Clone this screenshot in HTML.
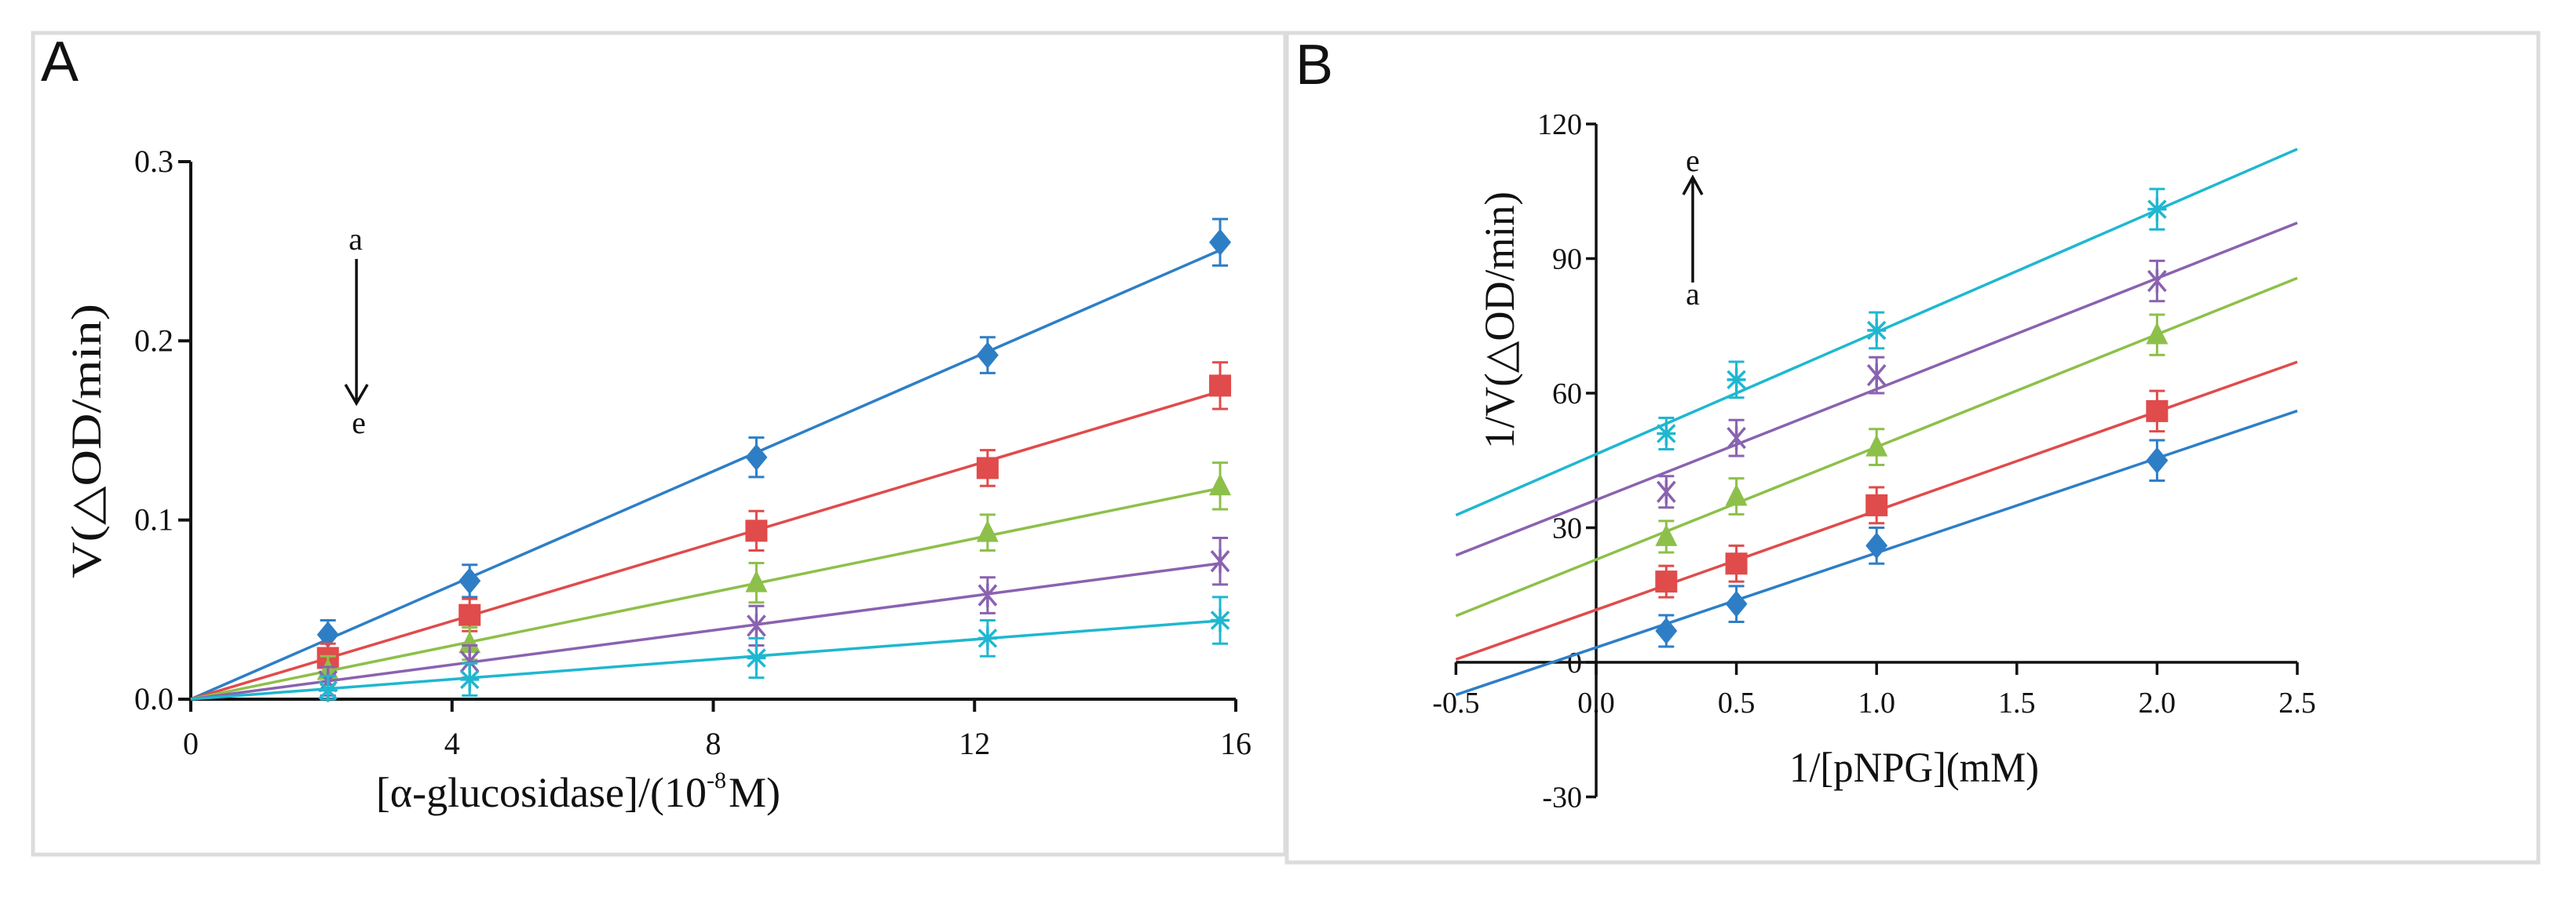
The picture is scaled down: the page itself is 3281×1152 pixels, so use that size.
<!DOCTYPE html>
<html><head><meta charset="utf-8"><style>
html,body{margin:0;padding:0;background:#fff;}
svg{display:block;}
text{font-family:"Liberation Serif",serif;fill:#111;}
</style></head><body>
<svg id="fig" width="3281" height="1152" viewBox="0 0 3281 1152" xmlns="http://www.w3.org/2000/svg">
<rect x="42" y="42" width="1595" height="1047" fill="none" stroke="#dcdcdc" stroke-width="5"/>
<rect x="1639" y="42" width="1594" height="1057" fill="none" stroke="#dcdcdc" stroke-width="5"/>
<text x="52" y="103" style="font-family:'Liberation Sans',sans-serif;font-size:72px">A</text>
<text x="1650" y="107" style="font-family:'Liberation Sans',sans-serif;font-size:72px">B</text>
<g id="gA"></g>
<g id="gB"></g>
</svg>
<script>
const NS="http://www.w3.org/2000/svg";
const colors=["#2e7ec6","#e04b4b","#8dc04a","#8a62b0","#1fb7d0"];
const markers=["diamond","square","triangle","xstar","star"];
// Panel A data
const aX=[2.1,4.27,8.66,12.2,15.76];
const aBlue=[0.036,0.066,0.135,0.192,0.255];
const aRed=[0.023,0.047,0.094,0.129,0.175];
const aGreen=[0.016,0.031,0.065,0.093,0.119];
const aPurple=[0.010,0.021,0.041,0.058,0.077];
const aCyan=[0.005,0.011,0.023,0.034,0.044];
const aErr=[0.008,0.009,0.011,0.010,0.013];
const aSlopes=[0.0159,0.0109,0.00747,0.00481,0.00278];
const aXTicks=[0,4,8,12,16];
const aYTicks=[0,0.1,0.2,0.3];
// Panel B data
const bX=[0.25,0.5,1.0,2.0];
const bBlue=[7,13,26,45];
const bRed=[18,22,35,56];
const bGreen=[28,37,48,73];
const bPurple=[38,50,64,85];
const bCyan=[51,63,74,101];
const bErr=[3.5,4,4,4.5];
const bSlopes=[21.1,22.1,25.1,24.7,27.2];
const bIntercepts=[3.3,11.7,22.9,36.2,46.4];
const bXTicks=[-0.5,0.0,0.5,1.0,1.5,2.0,2.5];
const bYTicks=[-30,0,30,60,90,120];

function el(tag,attrs,parent){const e=document.createElementNS(NS,tag);for(const k in attrs)e.setAttribute(k,attrs[k]);parent.appendChild(e);return e;}
function marker(g,type,cx,cy,c){
  let m;
  if(type==="diamond"){m=el("polygon",{points:`${cx},${cy-17} ${cx+14},${cy} ${cx},${cy+17} ${cx-14},${cy}`,fill:c},g);}
  else if(type==="square"){m=el("rect",{x:cx-14,y:cy-14,width:28,height:28,fill:c},g);}
  else if(type==="triangle"){m=el("polygon",{points:`${cx},${cy-16} ${cx+14},${cy+12} ${cx-14},${cy+12}`,fill:c},g);}
  else if(type==="xstar"){m=el("path",{d:`M${cx-11},${cy-13}L${cx+11},${cy+13}M${cx+11},${cy-13}L${cx-11},${cy+13}M${cx},${cy-15}L${cx},${cy+15}`,stroke:c,"stroke-width":3.5,fill:"none"},g);}
  else {m=el("path",{d:`M${cx-11},${cy-11}L${cx+11},${cy+11}M${cx+11},${cy-11}L${cx-11},${cy+11}M${cx},${cy-15}L${cx},${cy+15}M${cx-12},${cy}L${cx+12},${cy}`,stroke:c,"stroke-width":3.5,fill:"none"},g);}
  
  
}
function errbar(g,cx,y1,y2,c){
  const p=el("path",{d:`M${cx},${y1}L${cx},${y2}M${cx-10},${y1}L${cx+10},${y1}M${cx-10},${y2}L${cx+10},${y2}`,stroke:c,"stroke-width":3,fill:"none"},g);
  
  
}
function txt(g,x,y,s,size,anchor,extra){
  const t=el("text",Object.assign({x:x,y:y,"font-size":size,"text-anchor":anchor||"middle"},extra||{}),g);
  t.textContent=s;return t;
}

// ---- Panel A ----
(function(){
  const g=document.getElementById("gA");
  const x0=243,xs=(1574-243)/16,y0=891,ys=(891-206)/0.3;
  const X=v=>x0+v*xs, Y=v=>y0-v*ys;
  const series=[aBlue,aRed,aGreen,aPurple,aCyan];
  let ax=el("path",{d:`M${X(0)},${Y(0.3)}L${X(0)},${Y(0)+12}M${X(0)},${Y(0)}L${X(16)},${Y(0)}`,stroke:"#111","stroke-width":4,fill:"none"},g);
  
  
  aYTicks.forEach(v=>{
    const t=el("path",{d:`M${X(0)-16},${Y(v)}L${X(0)},${Y(v)}`,stroke:"#111","stroke-width":4},g);
    
    
    const l=txt(g,X(0)-22,Y(v)+13,v.toFixed(1),40,"end");
    
    
  });
  aXTicks.forEach(v=>{
    const t=el("path",{d:`M${X(v)},${Y(0)}L${X(v)},${Y(0)+16}`,stroke:"#111","stroke-width":4},g);
    
    
    const l=txt(g,X(v),Y(0)+70,String(v),40,"middle");
    
    
  });
  series.forEach((s,i)=>{
    const ln=el("line",{x1:X(0),y1:Y(0),x2:X(15.8),y2:Y(aSlopes[i]*15.8),stroke:colors[i],"stroke-width":3.5},g);
    
    
    s.forEach((v,j)=>{
      errbar(g,X(aX[j]),Y(v+aErr[j]),Y(Math.max(0,v-aErr[j])),colors[i]);
      marker(g,markers[i],X(aX[j]),Y(v),colors[i]);
    });
  });
  const xt=txt(g,900,1028,"[α-glucosidase]/(10",54,"end");
  
  
  const sup=txt(g,900,1004,"-8",30,"start");
  
  
  const xt2=txt(g,928,1028,"M)",54,"start");
  
  
  const yt=txt(g,0,0,"V(△OD/min)",54,"middle",{transform:"translate(128,562) rotate(-90)",textLength:"350",lengthAdjust:"spacingAndGlyphs"});
  
  
  const a=txt(g,453,318,"a",40);
  const e=txt(g,457,552,"e",40);
  const ar=el("path",{d:"M454,330L454,512M440,490L454,514L468,490",stroke:"#111","stroke-width":3.5,fill:"none"},g);
  
  
})();

// ---- Panel B ----
(function(){
  const g=document.getElementById("gB");
  const x0=2033,xs=(2926-2033)/2.5,y0=844,ys=(844-158)/120;
  const X=v=>x0+v*xs, Y=v=>y0-v*ys;
  const series=[bBlue,bRed,bGreen,bPurple,bCyan];
  let ax=el("path",{d:`M${X(0)},${Y(120)}L${X(0)},${Y(-30)}M${X(-0.5)},${Y(0)}L${X(2.5)},${Y(0)}`,stroke:"#111","stroke-width":3.5,fill:"none"},g);
  
  
  bYTicks.forEach(v=>{
    const t=el("path",{d:`M${X(0)-13},${Y(v)}L${X(0)},${Y(v)}`,stroke:"#111","stroke-width":3.5},g);
    
    
    const l=txt(g,X(0)-18,Y(v)+13,String(v),38,"end");
    
    
  });
  bXTicks.forEach(v=>{
    const t=el("path",{d:`M${X(v)},${Y(0)}L${X(v)},${Y(0)+16}`,stroke:"#111","stroke-width":3.5},g);
    
    
    const l=txt(g,X(v),Y(0)+64,v.toFixed(1),38,"middle");
    
    
  });
  series.forEach((s,i)=>{
    const ln=el("line",{x1:X(-0.5),y1:Y(bIntercepts[i]-0.5*bSlopes[i]),x2:X(2.5),y2:Y(bIntercepts[i]+2.5*bSlopes[i]),stroke:colors[i],"stroke-width":3.5},g);
    
    
    s.forEach((v,j)=>{
      errbar(g,X(bX[j]),Y(v+bErr[j]),Y(v-bErr[j]),colors[i]);
      marker(g,markers[i],X(bX[j]),Y(v),colors[i]);
    });
  });
  const xt=txt(g,2438,996,"1/[pNPG](mM)",54,"middle",{textLength:"318",lengthAdjust:"spacingAndGlyphs"});
  
  
  const yt=txt(g,0,0,"1/V(△OD/min)",54,"middle",{transform:"translate(1928,408) rotate(-90)",textLength:"328",lengthAdjust:"spacingAndGlyphs"});
  
  
  const e=txt(g,2156,218,"e",40);
  const a=txt(g,2156,388,"a",40);
  const ar=el("path",{d:"M2156,360L2156,226M2144,248L2156,226L2168,248",stroke:"#111","stroke-width":3.5,fill:"none"},g);
  
  
})();
</script>
</body></html>
